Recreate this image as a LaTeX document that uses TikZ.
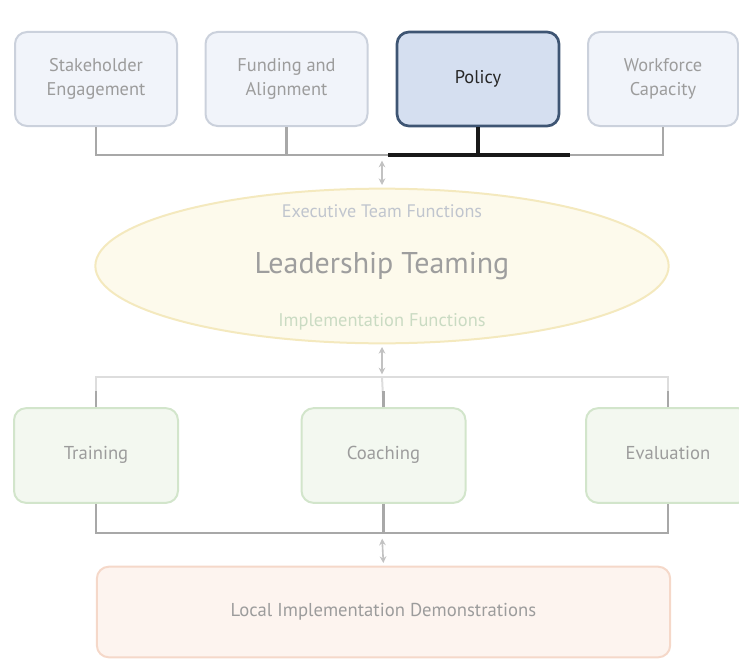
\documentclass[tikz,border=0pt]{standalone}
\usepackage{fontspec}
\setmainfont{PT Sans}
\usepackage{xcolor}
\usetikzlibrary{positioning, calc, shapes.geometric, arrows.meta}

\definecolor{boxgray}{HTML}{9C9C9C}
\definecolor{buscol}{HTML}{A8A8A8}
\definecolor{lightbus}{HTML}{DDDDDD}
\definecolor{bluefill}{HTML}{F1F4FA}
\definecolor{blueline}{HTML}{CBD1DC}
\definecolor{policyfill}{HTML}{D5DFF0}
\definecolor{policyline}{HTML}{3E5573}
\definecolor{greenfill}{HTML}{F3F8F0}
\definecolor{greenline}{HTML}{D2E5CB}
\definecolor{redfill}{HTML}{FDF4EF}
\definecolor{redline}{HTML}{F5D8C9}
\definecolor{yelfill}{HTML}{FDFAEC}
\definecolor{yelline}{HTML}{F4E9BE}

\tikzset{
  topbox/.style={draw=blueline, fill=bluefill, line width=1.5pt, rounded corners=9pt,
    minimum width=121.5pt, minimum height=70.5pt, align=center, text=boxgray,
    font=\fontsize{13.8}{18}\selectfont},
  policybox/.style={topbox, draw=policyline, fill=policyfill, line width=2pt, text=black!85},
  implbox/.style={draw=greenline, fill=greenfill, line width=1.5pt, rounded corners=9pt,
    minimum width=123pt, minimum height=71pt, text=boxgray, text height=1.7ex, text depth=0.5ex,
    font=\fontsize{14}{16}\selectfont},
  bus/.style={draw=buscol, line width=2.2pt},
  buson/.style={draw=black!90, line width=2.6pt},
  lbus/.style={draw=lightbus, line width=1.5pt},
  link/.style={draw=buscol!70, line width=1.2pt,
    {Stealth[length=5pt,width=5pt,fill=buscol!90!black]}-{Stealth[length=5pt,width=5pt,fill=buscol!90!black]},
    shorten <=2pt, shorten >=2pt}
}

\begin{document}
\begin{tikzpicture}[x=0.75pt, y=-0.75pt]
    \useasboundingbox (0, 0) rectangle (739, 660);
    \begin{scope}
      \clip (0, 0) rectangle (739, 660);

      % Executive functions
      \node[topbox] (stake) at (96, 79) {Stakeholder\\Engagement};
      \node[topbox] (fund) at (286.5, 79) {Funding and\\Alignment};
      \node[policybox] (policy) at (478, 79) {Policy};
      \node[topbox, minimum width=112.5pt] (work) at (663, 79) {Workforce\\Capacity};

      % Leadership teaming
      \node[ellipse, draw=yelline, fill=yelfill, line width=1.5pt, minimum width=430pt,
        minimum height=116pt, inner sep=0pt, text=black!38,
        font=\fontsize{22.5}{26}\selectfont] (lead) at (382, 266) {Leadership Teaming};
      \node[text=blueline!85!gray, font=\fontsize{13.6}{15}\selectfont] (exec) at (382, 211)
        {Executive Team Functions};
      \node[text=greenline!90!gray, font=\fontsize{13.8}{15}\selectfont] (impl) at (382, 322)
        {Implementation Functions};

      % Implementation functions
      \node[implbox] (train) at (96, 455.5) {Training};
      \node[implbox] (coach) at (383.5, 455.5) {Coaching};
      \node[implbox] (eval) at (668, 455.5) {Evaluation};

      \node[draw=redline, fill=redfill, line width=1.5pt, rounded corners=9pt,
        minimum width=430pt, minimum height=68pt, text=boxgray,
        font=\fontsize{14}{16}\selectfont] (local) at (383.5, 612)
        {Local Implementation Demonstrations};

      % Buses
      \coordinate (bus1) at (382, 155);
      \coordinate (bus2) at (382, 377);
      \coordinate (bus3) at (382, 533);
      \coordinate (hl1) at (388, 155);
      \coordinate (hl2) at (570, 155);

      \draw[bus] (stake.south) |- (bus1) -| (work.south);
      \draw[bus] (fund.south) -- (fund.south |- bus1);
      \draw[buson] (policy.south) -- (policy.south |- bus1);
      \draw[buson] (hl1) -- (hl2);

      \draw[lbus] (train.north) |- (bus2) -| (eval.north);
      \draw[lbus] (coach.north) -- (bus2);
      \foreach \n in {train, coach, eval}
        \draw[bus] (\n.north) -- ++(0, -16);

      \draw[bus] (train.south) |- (bus3) -| (eval.south);
      \draw[bus] (coach.south) -- (coach.south |- bus3);

      % Arrows
      \draw[link] (bus1) ++(0, 3) -- (lead.north);
      \draw[link] (lead.south) -- (bus2);
      \draw[link] (bus3) ++(0, 3) -- (local.north);
    \end{scope}
\end{tikzpicture}
\end{document}
